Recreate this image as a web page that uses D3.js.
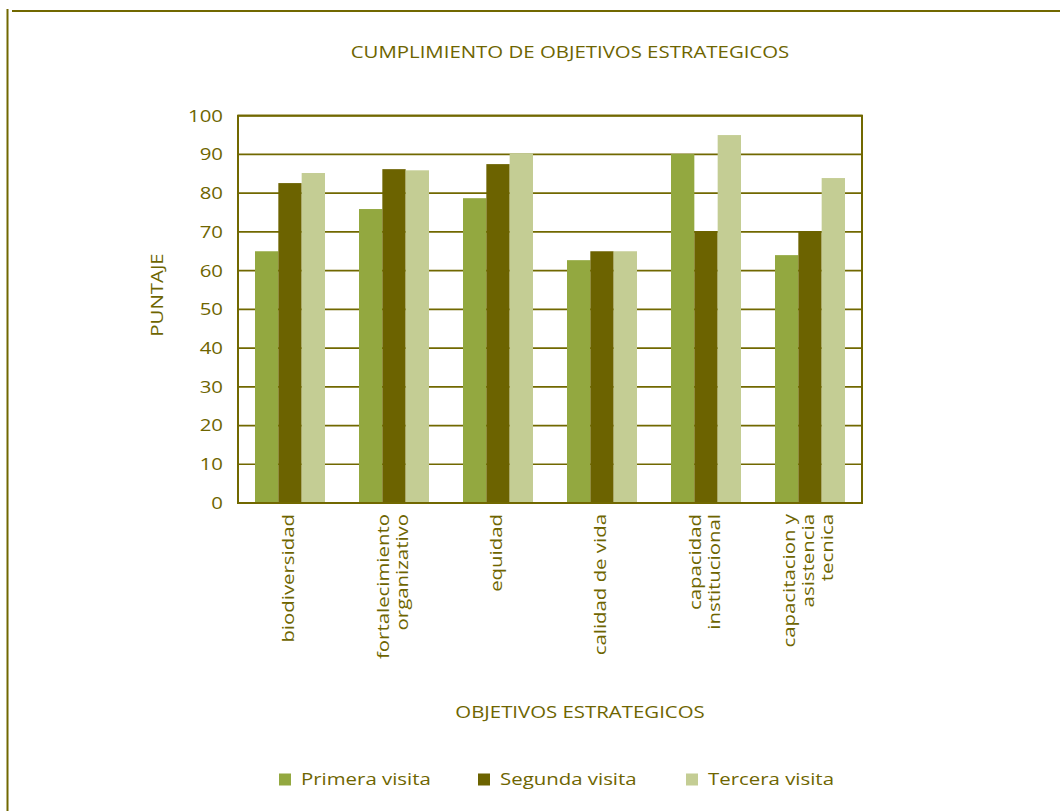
<!DOCTYPE html>
<html>
<head>
<meta charset="utf-8">
<script src="https://cdn.jsdelivr.net/npm/d3@7"></script>
<style>
  html, body { margin: 0; padding: 0; background: #fff; }
  svg { display: block; }
  text { font-family: "Open Sans", "Noto Sans", sans-serif; fill: #6e6500; font-size: 17px; }
</style>
</head>
<body>
<svg id="chart" width="1060" height="811"></svg>
<script>
const categories = [
  ["biodiversidad"],
  ["fortalecimiento", "organizativo"],
  ["equidad"],
  ["calidad de vida"],
  ["capacidad", "institucional"],
  ["capacitacion y", "asistencia", "tecnica"]
];
const seriesNames = ["Primera visita", "Segunda visita", "Tercera visita"];
const primera = [65, 75.9, 78.7, 62.7, 90.1, 64];
const segunda = [82.6, 86.2, 87.5, 65, 70.2, 70.2];
const tercera = [85.2, 85.9, 90.3, 65, 95, 83.9];
const yTicks = [0, 10, 20, 30, 40, 50, 60, 70, 80, 90, 100];
const seriesColors = ["#93a840", "#6c6300", "#c4cd94"];
const title = "CUMPLIMIENTO DE OBJETIVOS ESTRATEGICOS";
const xTitle = "OBJETIVOS ESTRATEGICOS";
const yTitle = "PUNTAJE";

const series = [primera, segunda, tercera];
const olive = "#716800";
const SX = 1.2; // horizontal stretch of the lettering

const svg = d3.select("#chart");

// outer frame
svg.append("line").attr("x1", 7.5).attr("x2", 7.5).attr("y1", 9).attr("y2", 811)
  .attr("stroke", olive).attr("stroke-width", 2);
svg.append("line").attr("x1", 12).attr("x2", 1060).attr("y1", 11).attr("y2", 11)
  .attr("stroke", olive).attr("stroke-width", 2);

const pLeft = 238, pRight = 862, pTop = 115.7, pBottom = 503;
const catIdx = d3.range(categories.length);

const x0 = d3.scaleBand().domain(catIdx).range([pLeft, pRight])
  .paddingInner(0.327).paddingOuter(0.1635);
const x1 = d3.scaleBand().domain(d3.range(series.length)).range([0, x0.bandwidth()]);
const y = d3.scaleLinear().domain([0, 100]).range([pBottom, pTop]);

// gridlines
svg.append("g").selectAll("line").data(yTicks).join("line")
  .attr("x1", pLeft).attr("x2", pRight)
  .attr("y1", d => y(d)).attr("y2", d => y(d))
  .attr("stroke", olive).attr("stroke-width", 1.7);

// bars
const groups = svg.append("g").selectAll("g").data(catIdx).join("g")
  .attr("transform", i => `translate(${x0(i)},0)`);
groups.selectAll("rect").data(i => series.map((s, k) => ({k, v: s[i]}))).join("rect")
  .attr("x", d => x1(d.k))
  .attr("width", x1.bandwidth())
  .attr("y", d => y(d.v))
  .attr("height", d => y(0) - y(d.v))
  .attr("fill", d => seriesColors[d.k]);

// plot border
svg.append("rect").attr("x", pLeft).attr("y", pTop)
  .attr("width", pRight - pLeft).attr("height", pBottom - pTop)
  .attr("fill", "none").attr("stroke", olive).attr("stroke-width", 2);

// y axis labels
const yAxis = d3.axisLeft(y).tickValues(yTicks).tickSize(0).tickPadding(15);
const yg = svg.append("g").attr("transform", `translate(${pLeft},0)`).call(yAxis);
yg.select(".domain").remove();
yg.attr("font-family", null).attr("font-size", null);
yg.selectAll("text").attr("x", 0).attr("fill", "#6e6500")
  .attr("transform", `translate(-15,0) scale(${SX},1)`);

// x labels (rotated, one text per line)
catIdx.forEach(i => {
  const lines = categories[i];
  const n = lines.length;
  const cx = x0(i) + x0.bandwidth() / 2;
  lines.forEach((ln, j) => {
    const bx = cx + 4 + (j - (n - 1) / 2) * 19;
    svg.append("text")
      .attr("transform", `translate(${bx},514) rotate(-90) scale(${SX},1)`)
      .attr("text-anchor", "end")
      .text(ln);
  });
});

// titles
svg.append("text").attr("transform", `translate(570,58) scale(${SX},1)`)
  .attr("text-anchor", "middle").text(title);
svg.append("text").attr("transform", `translate(580,718) scale(${SX},1)`)
  .attr("text-anchor", "middle").text(xTitle);
svg.append("text").attr("transform", `translate(163,295) rotate(-90) scale(${SX},1)`)
  .attr("text-anchor", "middle").text(yTitle);

// legend
const legX = [279, 478, 686];
const leg = svg.append("g").selectAll("g").data(seriesNames).join("g")
  .attr("transform", (d, i) => `translate(${legX[i]},773.5)`);
leg.append("rect").attr("width", 12).attr("height", 12)
  .attr("fill", (d, i) => seriesColors[i]);
leg.append("text").attr("transform", `translate(22,11.5) scale(${SX},1)`).text(d => d);
</script>
</body>
</html>
